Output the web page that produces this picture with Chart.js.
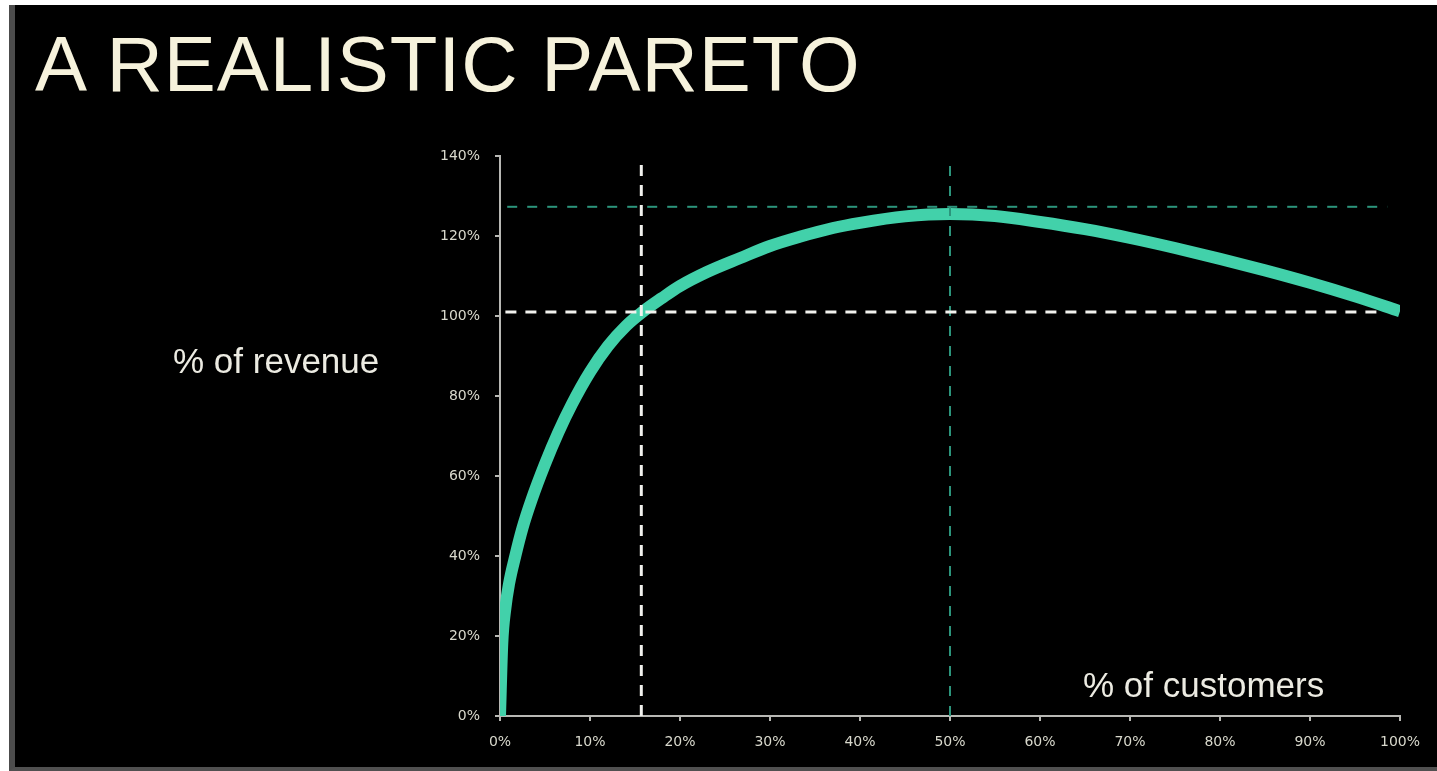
<!DOCTYPE html>
<html>
<head>
<meta charset="utf-8">
<script src="https://cdn.jsdelivr.net/npm/chart.js@4"></script>
<style>
  html, body { margin: 0; padding: 0; background: #ffffff; width: 1437px; height: 771px; overflow: hidden; }
  #panel {
    position: absolute; left: 9px; top: 5px; width: 1422px; height: 762px;
    background: #000000; border-left: 6px solid #4c4c4c; border-bottom: 4px solid #505050;
  }
  #wrap { position: absolute; left: 0; top: 0; width: 1437px; height: 771px; }
  .txt { position: absolute; font-family: "Liberation Sans", Arial, sans-serif; color: #f6f2dc; white-space: nowrap; line-height: 1; }
  #title { font-size: 78px; letter-spacing: 1px; left: 35px; top: 25px; }
  #ylab { font-size: 35px; left: 173px; top: 343px; color: #ecebe2; }
  #xlab { font-size: 35px; left: 1083px; top: 667px; color: #ecebe2; }
</style>
</head>
<body>
<div id="panel"></div>
<div id="wrap"><canvas id="c" width="1437" height="771"></canvas></div>
<div class="txt" id="title">A REALISTIC PARETO</div>
<div class="txt" id="ylab">% of revenue</div>
<div class="txt" id="xlab">% of customers</div>
<script>
// cumulative share of customers (x, %) and cumulative share of revenue (y, %)
const customerPct = [0, 0.25, 0.6, 1, 1.7, 2.5, 3.5, 5, 6.5, 8, 10, 12, 14, 16, 18, 20, 23, 26.7, 30, 33.3, 37, 40, 45, 50,
                     55, 60, 65, 70, 75, 80, 85, 90, 95, 100];
const revenuePct  = [0, 18, 27, 33, 40, 47, 54, 63, 71, 78, 86, 92.5, 97.5, 101.3, 104.5, 107.5, 111, 114.5, 117.5, 119.8, 122, 123.3, 124.9, 125.5,
                     125, 123.5, 121.7, 119.5, 117, 114.3, 111.4, 108.3, 104.9, 101.2];

// reference lines
const breakEvenX = 15.7;   // customers needed to reach total revenue
const totalLevel = 101;    // total revenue level
const peakX = 50;          // customer share at the peak
const peakLevel = 127.3;   // peak revenue level

const xTicks = [0, 10, 20, 30, 40, 50, 60, 70, 80, 90, 100];
const yTicks = [0, 20, 40, 60, 80, 100, 120, 140];

const curve = customerPct.map((x, i) => ({ x: x, y: revenuePct[i] }));

const white = '#f2f2ee';
const dimTeal = '#2c957c';

new Chart(document.getElementById('c'), {
  type: 'line',
  data: {
    datasets: [
      { data: [{ x: breakEvenX, y: 0 }, { x: breakEvenX, y: 139 }], borderColor: white, borderWidth: 3, borderDash: [11, 9], pointRadius: 0, order: 1 },
      { data: [{ x: 0.6, y: totalLevel }, { x: 97.5, y: totalLevel }], borderColor: white, borderWidth: 3, borderDash: [11, 9], pointRadius: 0, order: 1 },
      { data: [{ x: peakX, y: 0 }, { x: peakX, y: 140 }], borderColor: dimTeal, borderWidth: 2, borderDash: [10, 10], pointRadius: 0, order: 1 },
      { data: [{ x: 0.8, y: peakLevel }, { x: 98.6, y: peakLevel }], borderColor: dimTeal, borderWidth: 2, borderDash: [10, 10], pointRadius: 0, order: 1 },
      { data: curve, borderColor: '#42d1aa', borderWidth: 12, borderCapStyle: 'butt', borderJoinStyle: 'round',
        cubicInterpolationMode: 'monotone', pointRadius: 0, order: 2 }
    ]
  },
  options: {
    responsive: false,
    animation: false,
    events: [],
    layout: { padding: { left: 400, right: 37, top: 156, bottom: 15 } },
    plugins: { legend: { display: false }, tooltip: { enabled: false } },
    scales: {
      x: {
        type: 'linear', min: 0, max: 100,
        afterBuildTicks: s => { s.ticks = xTicks.map(v => ({ value: v })); },
        afterFit: s => { s.height = 40; },
        grid: { drawOnChartArea: false, drawTicks: true, tickLength: 5, color: '#b8b8b4', lineWidth: 2 },
        border: { display: true, color: '#b8b8b4', width: 2 },
        ticks: { color: '#d8d8cc', padding: 13, font: { family: 'DejaVu Sans', size: 14 }, maxRotation: 0, callback: v => v + '%' }
      },
      y: {
        type: 'linear', min: 0, max: 140,
        afterBuildTicks: s => { s.ticks = yTicks.map(v => ({ value: v })); },
        afterFit: s => { s.width = 100; },
        grid: { drawOnChartArea: false, drawTicks: true, tickLength: 5, color: '#b8b8b4', lineWidth: 2 },
        border: { display: true, color: '#b8b8b4', width: 2 },
        ticks: { color: '#d8d8cc', padding: 15, font: { family: 'DejaVu Sans', size: 14 }, callback: v => v + '%' }
      }
    }
  }
});
</script>
</body>
</html>
